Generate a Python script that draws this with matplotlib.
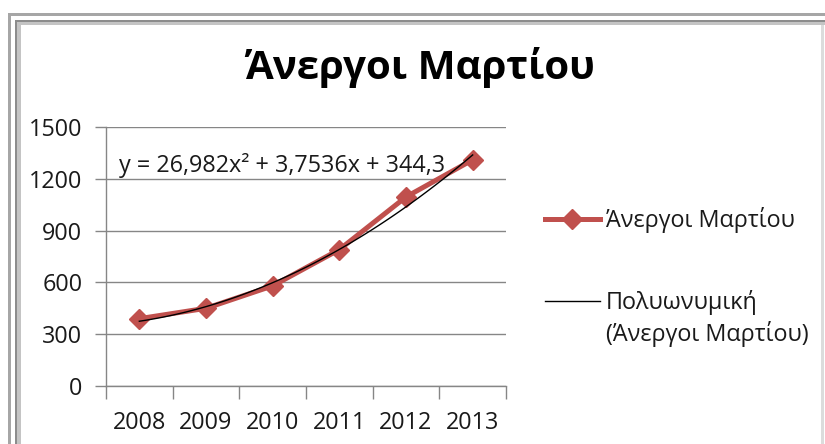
import matplotlib
matplotlib.use("Agg")
import matplotlib.pyplot as plt
from matplotlib.patches import Rectangle
import numpy as np

plt.rcParams['font.family'] = ['Open Sans', 'DejaVu Sans']

# Data
years = ["2008", "2009", "2010", "2011", "2012", "2013"]
unemployed = [390, 450, 580, 790, 1095, 1310]

# Polynomial trend coefficients (order 2, x = 1..6)
coef_a = 26.982
coef_b = 3.7536
coef_c = 344.3

y_ticks = [0, 300, 600, 900, 1200, 1500]

title = "Άνεργοι Μαρτίου"
series_label = "Άνεργοι Μαρτίου"
trend_label = "Πολυωνυμική"
trend_label_2 = "(Άνεργοι Μαρτίου)"
equation = "y = 26,982x² + 3,7536x + 344,3"

FS = 16.8
W, H = 825, 444
fig = plt.figure(figsize=(W / 100, H / 100), dpi=100)

# chart frame
def px_rect(x, y, w, h, color):
    fig.patches.append(Rectangle((x / W, 1 - (y + h) / H), w / W, h / H,
                                 transform=fig.transFigure, color=color,
                                 lw=0, zorder=0))

px_rect(8, 13, W - 8, 3, "#a6a6a6")
px_rect(8, 13, 3, H - 13, "#a6a6a6")
px_rect(15, 20, W - 15, 2, "#8c8c8c")
px_rect(15, 22, W - 15, 3, "#c4c4c4")
px_rect(15, 20, 2, H - 20, "#8c8c8c")
px_rect(17, 22, 4, H - 22, "#c4c4c4")
px_rect(821, 25, 3, H - 25, "#dcdcdc")

fig.text(420 / W, 1 - 67 / H, title, ha="center", va="center",
         fontsize=29, fontweight="bold", color="#000000")

ax = fig.add_axes([106 / W, (H - 386) / H, 400 / W, 259 / H])

x = np.arange(1, len(years) + 1)
ax.plot(x, unemployed, color="#c0504d", lw=3.6, marker="D", markersize=10,
        label=series_label, zorder=3)

xs = np.linspace(1, 6, 100)
trend = coef_a * xs ** 2 + coef_b * xs + coef_c
ax.plot(xs, trend, color="#000000", lw=1.0, label=trend_label, zorder=4)

ax.set_xlim(0.5, 6.5)
ax.set_ylim(0, 1500)
ax.set_yticks(y_ticks)
ax.set_xticks(np.arange(0.5, 7, 1))
ax.set_xticklabels([])
ax.set_xticks(x, minor=True)
ax.set_xticklabels(years, minor=True)
ax.tick_params(axis="x", which="major", length=9, color="#868686", width=1)
ax.tick_params(axis="x", which="minor", length=0, pad=18, labelsize=FS,
               labelcolor="#1a1a1a")
ax.tick_params(axis="y", length=8, color="#868686", width=1, pad=9,
               labelsize=FS, labelcolor="#1a1a1a")
ax.grid(axis="y", color="#868686", lw=1)
ax.set_axisbelow(True)
for s in ["top", "right"]:
    ax.spines[s].set_visible(False)
for s in ["left", "bottom"]:
    ax.spines[s].set_color("#868686")
    ax.spines[s].set_linewidth(1)

ax.text((119 - 106) / 400, (386 - 166) / 259, equation, transform=ax.transAxes,
        ha="left", va="center", fontsize=FS, color="#1a1a1a", zorder=5)

leg = ax.legend(loc="upper left", bbox_to_anchor=(545 / W, 1 - 207 / H),
                bbox_transform=fig.transFigure, frameon=False, fontsize=FS,
                handlelength=2.35, handletextpad=0.25, labelspacing=2.45,
                borderpad=0, borderaxespad=0)
for t in leg.get_texts():
    t.set_color("#1a1a1a")

# second line of the trend label under the first one
fig.canvas.draw()
bb = leg.get_texts()[1].get_window_extent()
fig.text(bb.x0 / W, (bb.y0 - 32) / H, trend_label_2, ha="left", va="bottom",
         fontsize=FS, color="#1a1a1a")

fig.savefig("out.png", dpi=100)
